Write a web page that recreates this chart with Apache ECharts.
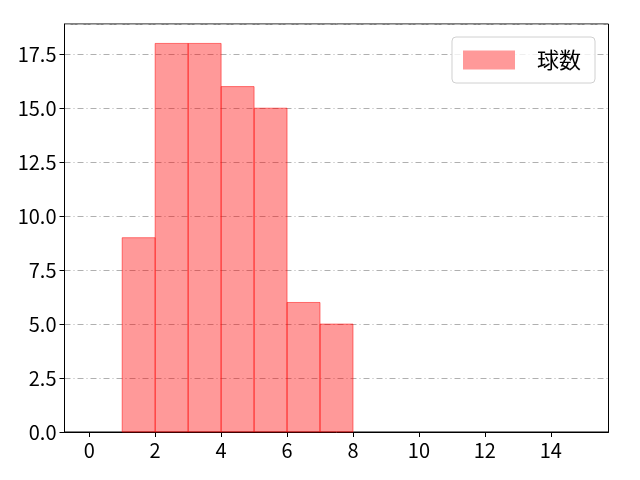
<!DOCTYPE html>
<html><head><meta charset="utf-8">
<script src="https://cdn.jsdelivr.net/npm/echarts@6/dist/echarts.min.js"></script>
<style>html,body{margin:0;padding:0;background:#fff}#c{width:640px;height:480px}</style>
</head><body><div id="c"></div>
<script>
var binStarts = [1, 2, 3, 4, 5, 6, 7];
var binWidth = 1;
var counts = [9, 18, 18, 16, 15, 6, 5];
var xTicks = [0, 2, 4, 6, 8, 10, 12, 14];
var seriesName = '球数';

var data = binStarts.map(function (s, i) { return [s, s + binWidth, counts[i]]; });
var chart = echarts.init(document.getElementById('c'));
var font = '"Noto Sans CJK JP", "DejaVu Sans", sans-serif';
chart.setOption({
  animation: false,
  grid: { left: 64.5, right: 31.5, top: 24, bottom: 48, show: true, borderColor: '#000', borderWidth: 1 },
  legend: {
    right: 45, top: 37, itemWidth: 52, itemHeight: 19, itemGap: 10,
    padding: [12, 14, 12, 11],
    borderColor: '#d0d0d0', borderWidth: 1, borderRadius: 4,
    backgroundColor: 'rgba(255,255,255,0.8)',
    textStyle: { fontFamily: font, fontSize: 22, color: '#000', padding: [0, 0, 0, 17] },
    data: [{ name: seriesName, icon: 'rect' }]
  },
  xAxis: {
    type: 'value', min: -0.75, max: 15.75, interval: 2,
    axisLine: { show: true, onZero: false, lineStyle: { color: '#000', width: 1 } },
    splitLine: { show: false },
    axisLabel: {
      fontFamily: font, fontSize: 20, color: '#000', margin: 8,
      customValues: xTicks,
      formatter: function (v) { return String(v); }
    },
    axisTick: { show: true, length: 5, customValues: xTicks, lineStyle: { color: '#000' } }
  },
  yAxis: {
    type: 'value', min: 0, max: 18.9, interval: 2.5,
    axisLine: { show: true, onZero: false, lineStyle: { color: '#000', width: 1 } },
    axisTick: { show: true, length: 5, lineStyle: { color: '#000' } },
    axisLabel: {
      fontFamily: font, fontSize: 20, color: '#000', margin: 8,
      showMaxLabel: false,
      formatter: function (v) { return v.toFixed(1); }
    },
    splitLine: { show: true, lineStyle: { color: '#b0b0b0', width: 1, type: [6, 3, 1, 3] } }
  },
  series: [{
    name: seriesName,
    type: 'custom',
    itemStyle: { color: '#ff9999' },
    renderItem: function (params, api) {
      var p0 = api.coord([api.value(0), 0]);
      var p1 = api.coord([api.value(1), api.value(2)]);
      return {
        type: 'rect',
        shape: { x: p0[0], y: p1[1], width: p1[0] - p0[0], height: p0[1] - p1[1] },
        style: { fill: 'rgba(255,0,0,0.4)', stroke: 'rgba(255,0,0,0.5)', lineWidth: 1 }
      };
    },
    encode: { x: [0, 1], y: 2 },
    data: data
  }]
});
</script></body></html>
